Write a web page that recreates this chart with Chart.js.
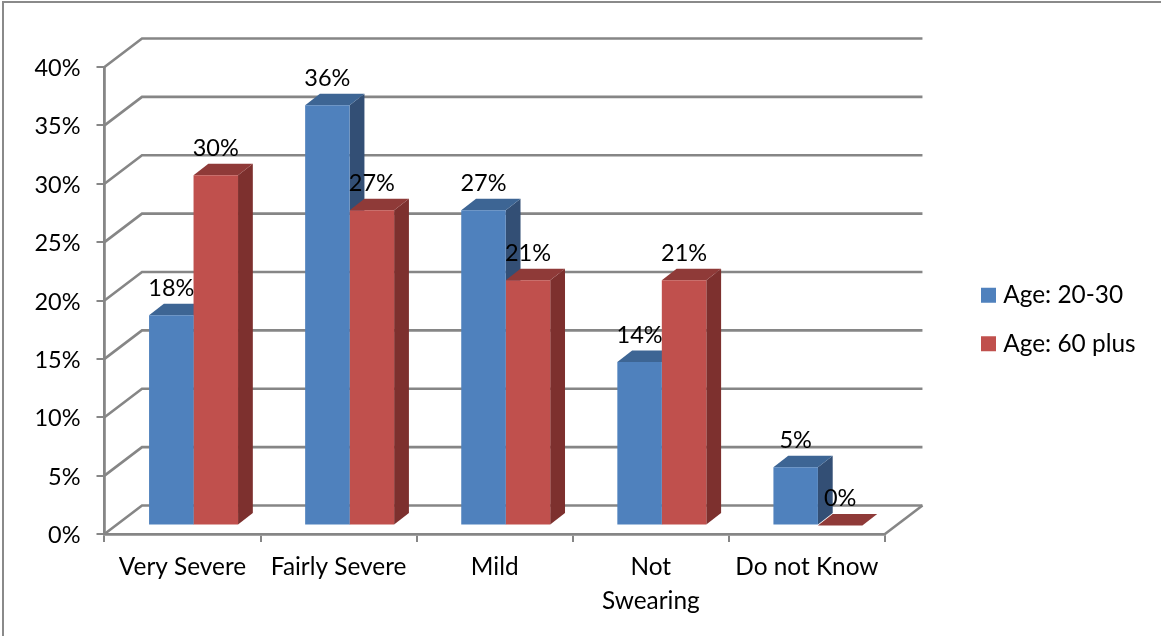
<!DOCTYPE html>
<html>
<head>
<meta charset="utf-8">
<script src="https://cdn.jsdelivr.net/npm/chart.js@4"></script>
<style>
  html, body { margin: 0; padding: 0; background: #fff; overflow: hidden; }
  #wrap { position: relative; width: 1161px; height: 636px; }
  #frame { position: absolute; left: 2px; top: 1px; right: 0; bottom: 0;
           border-left: 2px solid #8a8a8a; border-top: 2px solid #8a8a8a; }
  canvas { position: absolute; left: 0; top: 0; }
</style>
</head>
<body>
<div id="wrap">
  <div id="frame"></div>
  <canvas id="chart" width="1161" height="636"></canvas>
</div>
<script>
const categories = ['Very Severe', 'Fairly Severe', 'Mild', ['Not', 'Swearing'], 'Do not Know'];
const age2030 = [18, 36, 27, 14, 5];
const age60plus = [30, 27, 21, 21, 0];
const seriesNames = ['Age: 20-30', 'Age: 60 plus'];

const FONT = '"Lato", "Open Sans", sans-serif';
const FONT_SIZE = 24.4;
const NUM_SIZE = 23.5;
const AXIS = '#868686';
const INK = '#000';

// Oblique projection: back wall offset, bar placement within the floor, bar depth
const WALL = { dx: 37.5, dy: 28.5 };
const BAR_SHIFT = { dx: 11, dy: 8.5 };
const BAR_DEPTH = { dx: 14.8, dy: 11.5 };

const shades = [
  { top: '#3D6594', side: '#334F75' },
  { top: '#8F3A38', side: '#7D302E' }
];

function quad(ctx, pts, fill) {
  ctx.beginPath();
  ctx.moveTo(pts[0][0], pts[0][1]);
  for (let i = 1; i < pts.length; i++) ctx.lineTo(pts[i][0], pts[i][1]);
  ctx.closePath();
  ctx.fillStyle = fill;
  ctx.fill();
}

const walls3d = {
  id: 'walls3d',
  // Parks the legend in the right margin, clear of the floor's far corner
  afterLayout(chart) {
    const lg = chart.legend;
    const w = lg.right - lg.left;
    lg.left = 962;
    lg.right = lg.left + w;
    lg.top -= 32;
    lg.bottom -= 32;
  },
  beforeDatasetsDraw(chart) {
    const { ctx, scales: { x, y } } = chart;
    const left = x.left, right = x.right;
    ctx.save();

    // Back wall and side wall gridlines plus the floor edge
    ctx.strokeStyle = AXIS;
    ctx.lineWidth = 2.6;
    y.ticks.forEach(t => {
      const py = y.getPixelForValue(t.value);
      ctx.beginPath();
      ctx.moveTo(left, py);
      ctx.lineTo(left + WALL.dx, py - WALL.dy);
      ctx.lineTo(right + WALL.dx, py - WALL.dy);
      ctx.stroke();
    });
    const base = y.getPixelForValue(0);
    ctx.beginPath();
    ctx.moveTo(right, base);
    ctx.lineTo(right + WALL.dx, base - WALL.dy);
    ctx.stroke();

    // Side and top faces of every bar, left series first, under all front faces
    ctx.translate(BAR_SHIFT.dx, -BAR_SHIFT.dy);
    chart.data.datasets.forEach((ds, i) => {
      const c = shades[i];
      chart.getDatasetMeta(i).data.forEach(bar => {
        const x0 = bar.x - bar.width / 2, x1 = bar.x + bar.width / 2;
        const top = bar.y, bottom = bar.base;
        const d = BAR_DEPTH;
        if (bottom > top) {
          quad(ctx, [[x1, top], [x1 + d.dx, top - d.dy], [x1 + d.dx, bottom - d.dy], [x1, bottom]], c.side);
        }
        quad(ctx, [[x0, top], [x1, top], [x1 + d.dx, top - d.dy], [x0 + d.dx, top - d.dy]], c.top);
      });
    });
    ctx.restore();
  },
  // Front faces land on the floor, shifted in from the axis
  beforeDatasetDraw(chart) {
    chart.ctx.save();
    chart.ctx.translate(BAR_SHIFT.dx, -BAR_SHIFT.dy);
  },
  afterDatasetDraw(chart) {
    chart.ctx.restore();
  },
  // Value labels sit above the front face of each bar
  afterDatasetsDraw(chart) {
    const { ctx } = chart;
    ctx.save();
    ctx.font = NUM_SIZE + 'px ' + FONT;
    ctx.fillStyle = INK;
    ctx.textAlign = 'center';
    ctx.textBaseline = 'middle';
    chart.data.datasets.forEach((ds, i) => {
      chart.getDatasetMeta(i).data.forEach((bar, j) => {
        ctx.fillText(ds.data[j] + '%', bar.x + BAR_SHIFT.dx, bar.y - BAR_SHIFT.dy - 27);
      });
    });
    ctx.restore();
  }
};

new Chart(document.getElementById('chart'), {
  type: 'bar',
  data: {
    labels: categories,
    datasets: [
      { label: seriesNames[0], data: age2030, backgroundColor: '#4F81BD' },
      { label: seriesNames[1], data: age60plus, backgroundColor: '#C0504D' }
    ]
  },
  plugins: [walls3d],
  options: {
    responsive: false,
    animation: false,
    layout: { padding: { left: 0, top: 67, right: 92.5, bottom: 0 } },
    datasets: { bar: { categoryPercentage: 0.57, barPercentage: 1 } },
    scales: {
      x: {
        afterFit(s) { s.height = 102; },
        grid: { offset: true, drawOnChartArea: false, drawTicks: true, tickLength: 8, color: AXIS, lineWidth: 2 },
        border: { color: AXIS, width: 2.8 },
        ticks: {
          color: INK, font: { family: FONT, size: FONT_SIZE, lineHeight: 1.36 },
          maxRotation: 0, autoSkip: false, padding: 9
        }
      },
      y: {
        min: 0, max: 40,
        afterFit(s) { s.width = 104.5; },
        grid: { drawOnChartArea: false, drawTicks: true, tickLength: 8, color: AXIS, lineWidth: 2 },
        border: { color: AXIS, width: 2.8 },
        ticks: {
          stepSize: 5, color: INK, font: { family: FONT, size: NUM_SIZE }, padding: 16, labelOffset: 1.5,
          callback: v => v + '%'
        }
      }
    },
    plugins: {
      tooltip: { enabled: false },
      legend: {
        position: 'right',
        labels: {
          // A small box with a thick same-colour outline keeps the swatch close to its text
          boxWidth: 5, boxHeight: 5, padding: 24, color: INK,
          font: { family: FONT, size: FONT_SIZE },
          generateLabels: chart => Chart.defaults.plugins.legend.labels.generateLabels(chart)
            .map(item => ({ ...item, lineWidth: 10, strokeStyle: item.fillStyle }))
        }
      }
    }
  }
});
</script>
</body>
</html>
